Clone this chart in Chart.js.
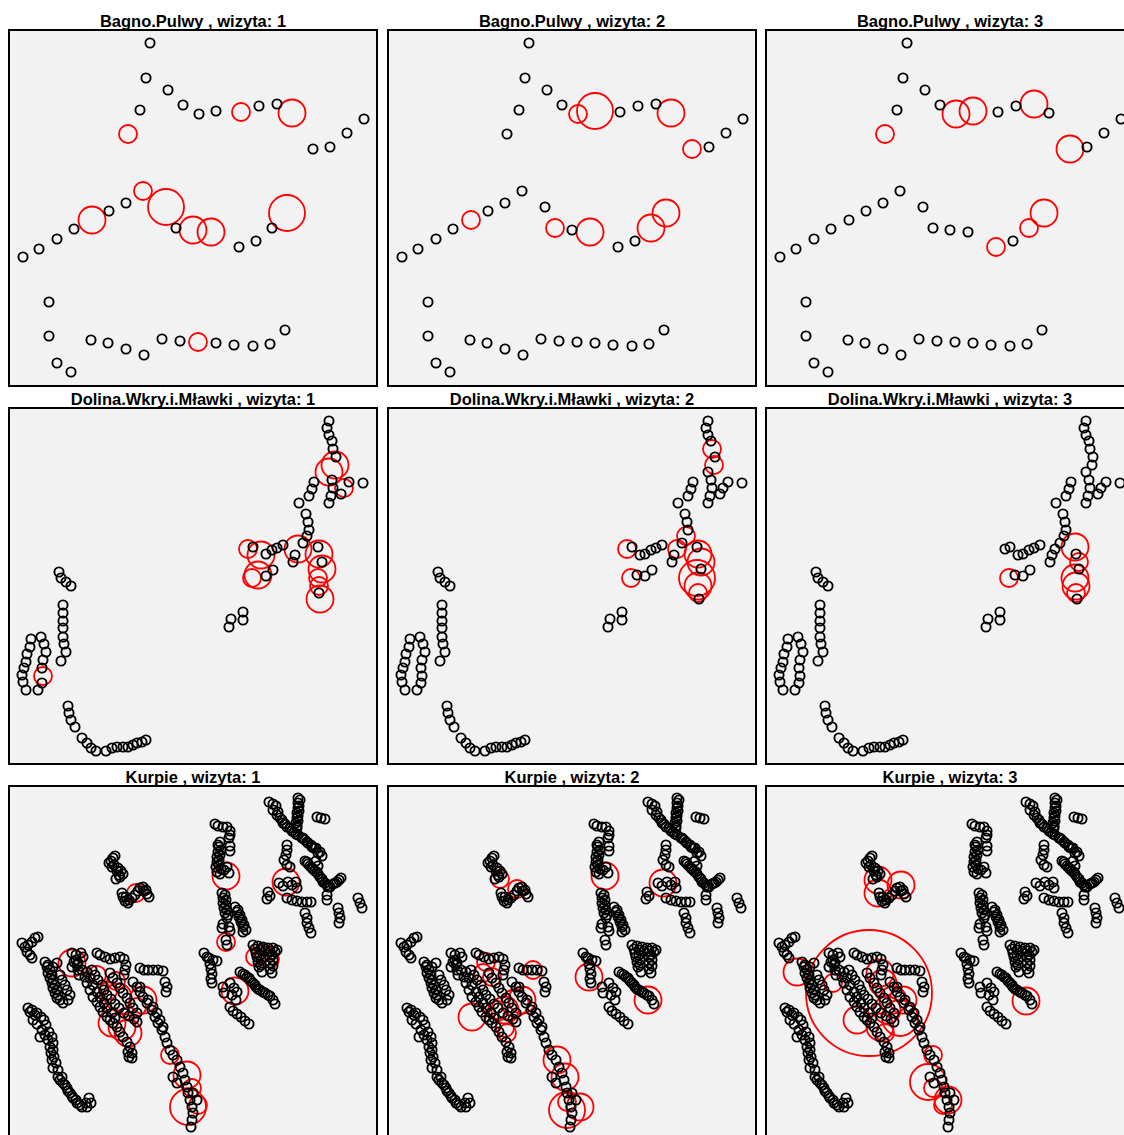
<!DOCTYPE html>
<html>
<head>
<meta charset="utf-8">
<script src="https://cdn.jsdelivr.net/npm/chart.js@4.4.1/dist/chart.umd.min.js"></script>
<style>
html, body { margin: 0; padding: 0; overflow: hidden; background: #fff; width: 1124px; height: 1135px; }
.title { position: absolute; width: 370px; text-align: center; font: bold 16.5px "Liberation Sans", Arial, sans-serif; line-height: 17px; color: #000; white-space: nowrap; }
.box { position: absolute; width: 370px; height: 358px; box-sizing: border-box; border: 2px solid #000; background: #f2f2f2; }
canvas { position: absolute; }
</style>
</head>
<body>
<script>
// sites and visits
const sites = ['Bagno.Pulwy', 'Dolina.Wkry.i.Mławki', 'Kurpie'];
const visits = [1, 2, 3];

// Bagno.Pulwy - point locations
const bagnoX = [142, 138, 132, 120, 160, 175, 191, 208, 233, 251, 269, 284, 305, 322, 339, 356,
  15, 31, 49, 66, 84, 101, 118, 135, 158, 168, 185, 203, 231, 248, 264, 279,
  41, 41, 49, 63, 83, 100, 118, 136, 154, 172, 190, 208, 226, 245, 262, 277];
const bagnoY = [14, 49, 81, 105, 61, 76, 85, 82, 83, 77, 75, 84, 120, 118, 104, 90,
  228, 220, 210, 200, 191, 182, 174, 162, 178, 199, 201, 203, 218, 212, 199, 184,
  273, 307, 334, 343, 311, 314, 320, 326, 310, 312, 313, 314, 316, 317, 315, 301];
// detections [x, y, count]
const bagnoHits1 = [[120, 105, 1], [233, 83, 1], [284, 84, 2], [84, 191, 2], [135, 162, 1], [158, 178, 3],
  [185, 201, 2], [203, 203, 2], [279, 184, 3], [190, 313, 1]];
const bagnoHits2 = [[191, 85, 1], [208, 82, 3], [284, 84, 2], [305, 120, 1], [84, 191, 1], [168, 199, 1],
  [203, 203, 2], [264, 199, 2], [279, 184, 2]];
const bagnoHits3 = [[120, 105, 1], [191, 85, 2], [208, 82, 2], [269, 75, 2], [305, 120, 2], [231, 218, 1],
  [264, 199, 1], [279, 184, 2]];

// Dolina.Wkry.i.Mławki - point locations
const dolinaX = [321, 319, 321, 324, 325, 328, 327, 321, 324, 325, 323, 321, 341, 336, 333, 355,
  306, 304, 301, 291, 298, 300, 301, 299, 295, 290, 287, 285,
  240, 245, 253, 258, 264, 269, 275,
  244, 250, 258, 265,
  221, 223, 235, 235,
  310, 311, 314, 314, 310, 311, 311, 312,
  51, 53, 58, 63,
  55, 55, 55, 55, 55, 56, 58, 53,
  23, 22, 19, 18, 16, 14, 15, 18,
  33, 36, 38, 35, 34, 35, 34, 30,
  60, 61, 63, 67, 74, 79, 83, 88, 98, 104, 109, 115, 120, 125, 129, 134, 138];
const dolinaY = [14, 21, 28, 34, 42, 50, 58, 65, 73, 81, 89, 96, 75, 81, 87, 76,
  75, 82, 89, 96, 107, 115, 123, 129, 136, 142, 148, 155,
  142, 140, 148, 147, 143, 141, 138,
  171, 168, 169, 163,
  220, 212, 205, 213,
  140, 147, 155, 162, 171, 179, 186, 192,
  165, 171, 175, 179,
  198, 206, 214, 221, 230, 237, 245, 254,
  232, 240, 247, 255, 261, 268, 275, 283,
  230, 237, 245, 253, 261, 269, 276, 283,
  299, 306, 313, 320, 331, 336, 341, 344, 344, 341, 340, 340, 340, 338, 336, 335, 333];
const dolinaHits1 = [[321, 65, 2], [327, 58, 2], [336, 81, 1], [290, 142, 2], [240, 142, 1], [253, 148, 2],
  [250, 168, 2], [244, 171, 1], [311, 147, 2], [314, 162, 2], [310, 171, 1], [311, 179, 1], [312, 192, 2], [35, 269, 1]];
const dolinaHits2 = [[325, 42, 1], [327, 58, 1], [299, 129, 1], [290, 142, 1], [240, 142, 1], [244, 171, 1],
  [311, 147, 2], [314, 155, 2], [310, 171, 3], [311, 179, 2], [311, 186, 1]];
const dolinaHits3 = [[310, 140, 2], [314, 155, 1], [310, 171, 2], [311, 179, 2], [311, 186, 1], [244, 171, 1]];

// Kurpie - point locations
const kurpieX = [107, 105, 103, 101, 104, 110, 113, 115, 112, 108, 114, 115, 117, 120, 124, 127, 132, 135, 138, 139, 141,
  207, 210, 215, 219, 222, 222, 221, 212, 211, 210, 209, 209, 208, 209, 212, 216, 219, 221, 222, 222,
  214, 215, 215, 216, 217, 219, 215, 214, 227, 229, 231, 233, 235, 235, 221, 222, 218, 219,
  261, 265, 268, 270, 272, 275, 279, 282, 286, 290, 294, 297, 300, 304, 308, 312, 314,
  290, 290, 290, 289, 289, 288, 289, 309, 313, 317,
  279, 279, 278, 276, 279, 282,
  297, 300, 304, 307, 310, 314, 317, 320, 325, 329, 333, 308, 310,
  271, 275, 280, 284, 288, 289, 260, 262, 259,
  279, 284, 289, 294, 299, 303, 319, 319, 330, 331, 332, 331,
  297, 299, 299, 301, 303, 350, 352, 354,
  196, 199, 201, 205, 209, 202, 203, 204, 203, 204,
  245, 250, 255, 260, 265, 269, 248, 249, 250, 251, 254, 264, 265, 265, 264,
  232, 237, 241, 245, 248, 252, 257, 262, 265, 267,
  222, 226, 229, 224, 228, 222, 225, 229, 233, 237, 241, 215, 216,
  14, 17, 20, 24, 27, 30, 19, 22, 24,
  37, 40, 42, 44, 45, 47, 49, 50, 52, 55, 60, 62, 59, 57, 54, 52, 45, 49,
  64, 68, 73, 75, 66, 64,
  70, 74, 77, 79, 82, 85, 89, 92, 95, 99, 102, 105, 109, 112, 115, 119, 122, 124, 124,
  89, 92, 97, 102, 107, 112, 116, 118, 117, 116,
  84, 87, 90, 94, 96, 99, 103, 107, 111, 116, 121, 126, 129,
  132, 136, 140, 145, 150, 155, 157, 159, 158,
  125, 129, 132, 135, 139, 144, 147, 150, 154, 157, 159, 162, 165, 169, 172, 175, 177, 179, 180, 182, 184, 185, 184, 183,
  165, 169, 185, 189,
  20, 24, 29, 33, 36, 38, 34, 37, 41, 44, 45, 45, 46, 48, 45, 50, 54, 55, 59, 62, 65, 69, 74, 78, 81, 83,
  25, 29, 32,
  // neighbouring sites along the same transects
  39, 40, 42, 44, 45, 47, 49, 68, 69, 70, 71,
  79, 82, 85, 89, 92, 96, 99, 104, 107,
  102, 105, 109, 112, 115, 119, 122, 125, 129,
  132, 140, 145, 149, 152, 155, 120, 121,
  22, 27, 40, 42, 43, 44, 50, 52, 57, 60, 64, 68, 72, 79,
  265, 269, 274, 277, 284, 288, 295, 299, 303, 306, 310,
  292, 291, 291, 290, 290, 289,
  299, 302, 305, 309, 312, 315, 319, 322, 327, 331,
  210, 213, 212, 211, 211, 213, 217, 218, 218, 219, 220, 230, 232, 234, 236, 238,
  247, 252, 257, 262, 267, 252, 253, 253, 262, 262, 262,
  235, 239, 243, 247, 250, 255, 260,
  106, 109, 111, 118, 121, 130, 136];
const kurpieY = [71, 73, 76, 78, 82, 83, 86, 89, 92, 94, 108, 112, 116, 118, 113, 110, 103, 102, 105, 109, 112,
  39, 41, 42, 42, 46, 50, 53, 57, 62, 67, 72, 77, 82, 87, 89, 85, 82, 88, 61, 66,
  108, 113, 118, 123, 128, 133, 139, 143, 122, 127, 132, 137, 142, 147, 142, 146, 155, 160,
  17, 19, 21, 27, 33, 38, 42, 43, 47, 50, 53, 55, 58, 62, 63, 67, 71,
  13, 18, 23, 28, 33, 38, 43, 32, 33, 34,
  60, 65, 70, 75, 80, 82,
  76, 79, 83, 86, 89, 94, 98, 102, 99, 97, 93, 76, 81,
  98, 101, 97, 100, 97, 103, 107, 111, 114,
  113, 115, 116, 117, 117, 117, 110, 115, 123, 128, 133, 138,
  128, 133, 138, 143, 148, 113, 118, 123,
  168, 172, 173, 175, 176, 179, 184, 189, 194, 198,
  160, 161, 162, 163, 163, 165, 168, 172, 177, 182, 187, 170, 175, 181, 188,
  187, 190, 193, 198, 202, 205, 208, 211, 215, 219,
  198, 203, 207, 210, 215, 222, 226, 229, 232, 236, 239, 202, 208,
  158, 162, 160, 157, 153, 152, 167, 170, 173,
  177, 180, 185, 190, 195, 200, 205, 210, 215, 218, 215, 210, 205, 200, 195, 190, 182, 178,
  168, 170, 168, 172, 177, 182,
  178, 185, 192, 198, 205, 212, 217, 222, 227, 232, 235, 238, 242, 247, 252, 257, 262, 268, 273,
  168, 170, 172, 174, 173, 172, 174, 180, 185, 190,
  185, 190, 195, 200, 205, 210, 214, 219, 223, 228, 231, 234, 237,
  183, 185, 185, 185, 185, 186, 197, 202, 207,
  197, 202, 207, 212, 218, 225, 232, 238, 245, 252, 258, 265, 270, 275, 282, 288, 295, 302, 308, 315, 322, 328, 335, 342,
  292, 298, 308, 315,
  223, 225, 228, 232, 235, 240, 245, 250, 247, 252, 258, 265, 272, 278, 283, 285, 292, 298, 303, 308, 313, 318, 322, 318, 313, 318,
  235, 239, 252,
  // neighbouring sites along the same transects
  182, 188, 193, 198, 203, 208, 213, 175, 180, 185, 190,
  187, 193, 200, 207, 212, 218, 223, 228, 233,
  188, 193, 198, 203, 208, 213, 218, 223, 228,
  202, 215, 222, 228, 235, 242, 267, 272,
  227, 230, 255, 262, 268, 275, 292, 295, 300, 306, 311, 315, 320, 322,
  25, 30, 35, 39, 46, 49, 53, 57, 60, 63, 68,
  15, 21, 26, 31, 36, 41,
  77, 81, 84, 87, 92, 97, 100, 102, 98, 95,
  60, 65, 70, 75, 80, 84, 110, 115, 120, 125, 130, 125, 130, 135, 140, 145,
  164, 165, 166, 166, 167, 170, 175, 180, 172, 178, 184,
  189, 192, 196, 200, 204, 207, 210,
  80, 86, 90, 112, 115, 106, 106];
const kurpieHits1 = [[64, 178, 2], [89, 190, 1], [108, 196, 1], [100, 206, 1], [110, 212, 2], [135, 215, 2],
  [129, 222, 1], [104, 238, 2], [114, 242, 2], [120, 248, 2], [162, 270, 1], [179, 290, 2], [184, 303, 1],
  [190, 320, 1], [180, 322, 3], [128, 108, 1], [218, 91, 2], [218, 157, 1], [278, 97, 2], [255, 168, 1],
  [262, 174, 1], [247, 172, 1], [227, 206, 2]];
const kurpieHits2 = [[113, 94, 1], [130, 104, 1], [218, 91, 2], [276, 98, 2], [146, 185, 1], [202, 192, 2],
  [261, 215, 2], [99, 177, 1], [96, 188, 1], [105, 192, 1], [85, 232, 2], [110, 225, 1], [118, 225, 2],
  [128, 218, 2], [135, 215, 2], [120, 248, 1], [118, 243, 1], [170, 275, 2], [178, 292, 2], [193, 322, 2],
  [180, 325, 3], [180, 317, 1]];
const kurpieHits3 = [[113, 95, 2], [136, 100, 2], [113, 108, 2], [261, 216, 2], [32, 187, 2], [104, 208, 13],
  [68, 198, 1], [115, 188, 2], [118, 198, 2], [128, 215, 2], [138, 215, 2], [92, 235, 2], [122, 225, 2],
  [135, 233, 3], [115, 242, 2], [120, 248, 1], [168, 270, 1], [163, 297, 3], [168, 303, 1], [183, 315, 2],
  [178, 320, 1]];

// panel grid
const colLeft = [8, 387, 765];
const rowTop = [29, 407, 785];
const BOX_W = 370, BOX_H = 358;
const R_BASE = 4.6;

function drawPanel(col, row, site, visit, xs, ys, hits) {
  const left = colLeft[col], top = rowTop[row];

  const title = document.createElement('div');
  title.className = 'title';
  title.style.left = left + 'px';
  title.style.top = (top - 16) + 'px';
  title.textContent = site + ' , wizyta: ' + visit;
  document.body.appendChild(title);

  const box = document.createElement('div');
  box.className = 'box';
  box.style.left = left + 'px';
  box.style.top = top + 'px';
  document.body.appendChild(box);

  const canvas = document.createElement('canvas');
  canvas.width = BOX_W;
  canvas.height = BOX_H;
  canvas.style.left = left + 'px';
  canvas.style.top = top + 'px';
  document.body.appendChild(canvas);

  // locations with no detection are drawn black
  const empty = [];
  xs.forEach((x, i) => {
    const y = ys[i];
    const hit = hits.some(h => Math.abs(h[0] - x) < 0.5 && Math.abs(h[1] - y) < 0.5);
    if (!hit) empty.push({ x: x, y: y, r: R_BASE });
  });

  new Chart(canvas, {
    type: 'bubble',
    data: {
      datasets: [
        {
          data: empty,
          borderColor: '#000000',
          backgroundColor: 'rgba(0,0,0,0)',
          borderWidth: 1.9
        },
        {
          data: hits.map(h => ({ x: h[0], y: h[1], r: 4.5 * (h[2] + 1) })),
          borderColor: '#ff0000',
          backgroundColor: 'rgba(0,0,0,0)',
          borderWidth: 1.8
        }
      ]
    },
    options: {
      responsive: false,
      animation: false,
      events: [],
      layout: { padding: 0, autoPadding: false },
      plugins: {
        legend: { display: false },
        tooltip: { enabled: false }
      },
      scales: {
        x: { type: 'linear', display: false, min: 0, max: BOX_W },
        y: { type: 'linear', display: false, min: 0, max: BOX_H, reverse: true }
      }
    }
  });
}

const siteX = [bagnoX, dolinaX, kurpieX];
const siteY = [bagnoY, dolinaY, kurpieY];
const siteHits = [
  [bagnoHits1, bagnoHits2, bagnoHits3],
  [dolinaHits1, dolinaHits2, dolinaHits3],
  [kurpieHits1, kurpieHits2, kurpieHits3]
];

sites.forEach((site, row) => {
  visits.forEach((v, col) => {
    drawPanel(col, row, site, v, siteX[row], siteY[row], siteHits[row][col]);
  });
});
</script>
</body>
</html>
